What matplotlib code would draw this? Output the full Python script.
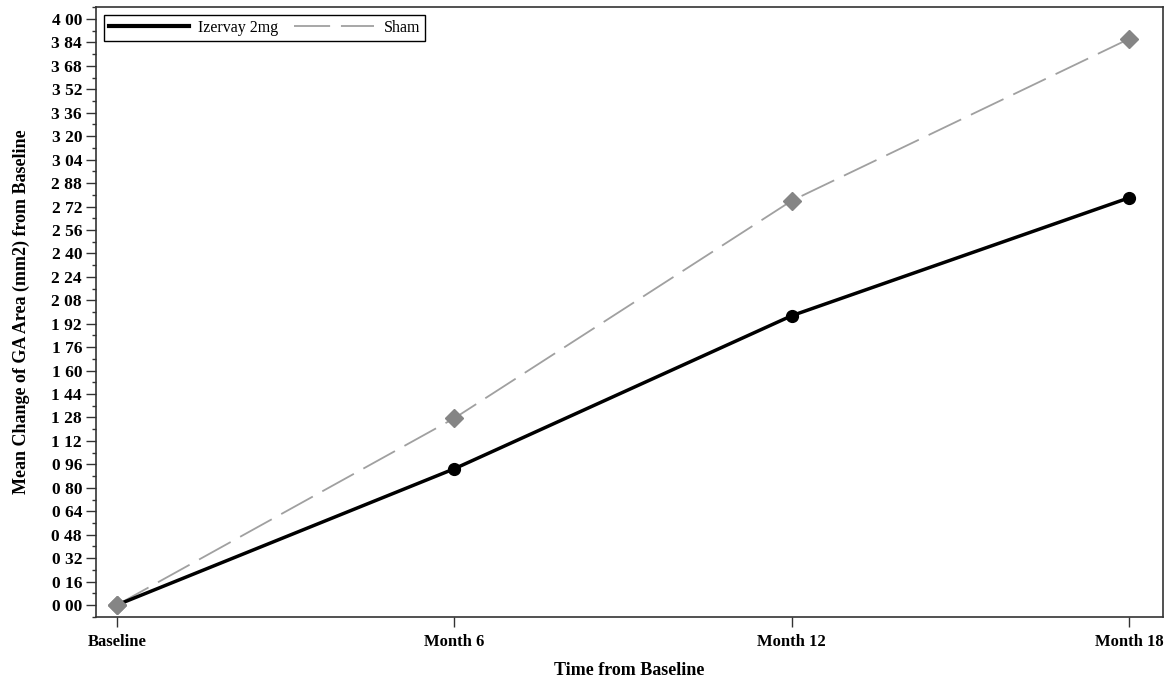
import matplotlib
matplotlib.use('Agg')
from matplotlib import pyplot as plt
from matplotlib.ticker import MultipleLocator
from matplotlib.lines import Line2D
import numpy as np

visits = ['Baseline', 'Month 6', 'Month 12', 'Month 18']
izervay = [0.00, 0.93, 1.975, 2.78]
sham = [0.00, 1.275, 2.76, 3.865]
y_ticks = np.arange(0, 4.01, 0.16)

plt.rcParams['font.family'] = ['Liberation Serif', 'DejaVu Serif']
plt.rcParams['font.weight'] = 'bold'

fig = plt.figure(figsize=(11.65, 6.79), dpi=100)
ax = fig.add_axes([96 / 1165., 1 - 617 / 679., (1163 - 96) / 1165., (617 - 7) / 679.])

x = np.arange(len(visits))
sham_dash = (20, 6)
ax.plot(x, sham, color='#a0a0a0', linewidth=1.3, dashes=sham_dash, marker='D',
        markersize=9, markerfacecolor='#858585', markeredgecolor='#858585', label='Sham', zorder=2)
ax.plot(x, izervay, color='black', linewidth=2.5, marker='o', markersize=8.5,
        markerfacecolor='black', markeredgecolor='black', label='Izervay 2mg', zorder=3)
# baseline diamond sits on top of the black line in the original
ax.plot(x[:1], sham[:1], linestyle='', marker='D', markersize=9, color='#858585', zorder=4)

ax.set_xlim(-0.062, 3.1)
ax.set_ylim(-0.082, 4.082)
ax.set_xticks(x)
ax.set_xticklabels(visits, fontsize=12, fontweight='bold')
ax.set_yticks(y_ticks)
ax.set_yticklabels(['%d %02d' % (int(round(v * 100)) // 100, int(round(v * 100)) % 100) for v in y_ticks],
                   fontsize=12.5, fontweight='bold')
ax.yaxis.set_minor_locator(MultipleLocator(0.08))
ax.tick_params(axis='both', which='major', length=7, width=1, color='#333333', pad=3)
ax.tick_params(axis='x', which='major', pad=5)
ax.tick_params(axis='y', which='minor', length=3, width=1, color='#333333')
for s in ax.spines.values():
    s.set_linewidth(1.2)
    s.set_color('#333333')

ax.set_xlabel('Time from Baseline', fontsize=13, fontweight='bold', labelpad=9)
ax.set_ylabel('Mean Change of GA Area (mm2) from Baseline', fontsize=13, fontweight='bold', labelpad=15)

h1 = Line2D([], [], color='black', linewidth=3)
h2 = Line2D([], [], color='#a0a0a0', linewidth=1.3, dashes=sham_dash)
lgd = ax.legend([h1, h2], ['Izervay 2mg', 'Sham'], loc='upper left', ncol=2, fancybox=False,
                edgecolor='black', framealpha=1, handlelength=5.0, handletextpad=0.6,
                borderaxespad=0.5, columnspacing=1.0, borderpad=0.3,
                prop={'family': ['Liberation Serif'], 'weight': 'normal', 'size': 11.5})
lgd.get_frame().set_linewidth(1.0)

fig.savefig('out.png', dpi=100)
